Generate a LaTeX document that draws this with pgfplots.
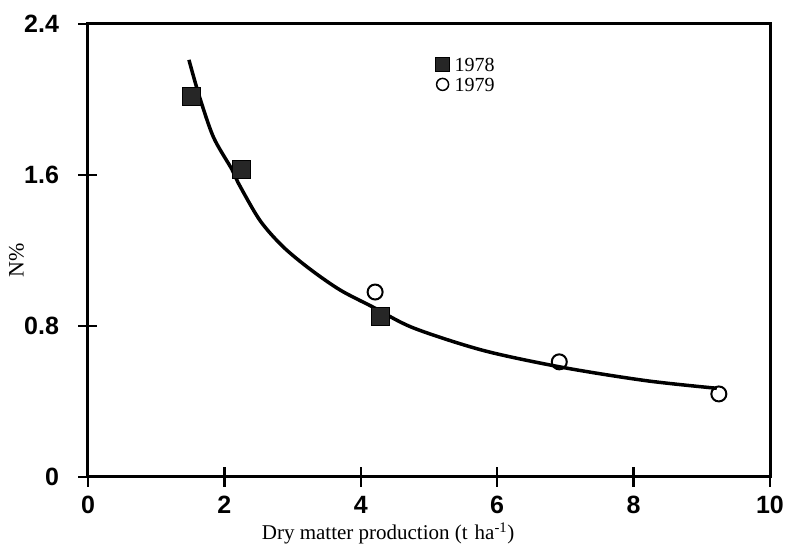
\documentclass[border=0pt]{standalone}
\usepackage{pgfplots}
\pgfplotsset{compat=1.18}
\usepackage{fontspec}
\setmainfont{Liberation Serif}
\setsansfont{Liberation Sans}
\begin{document}
\begin{tikzpicture}
\begin{axis}[
  scale only axis, width=682pt, height=453pt,
  xmin=0, xmax=10, ymin=0, ymax=2.4,
  xtick={0,2,4,6,8,10}, ytick={0,0.8,1.6,2.4},
  yticklabels={0,0.8,1.6,2.4},
  tick pos=left, tick align=center,
  major tick length=19pt,
  every tick/.style={black, line width=2.5pt},
  axis line style={line width=3pt},
  /pgf/number format/assume math mode=true,
  ticklabel style={font=\fontsize{25}{25}\selectfont\sffamily\bfseries},
  xticklabel style={yshift=-6pt},
  yticklabel style={xshift=-16pt},
  every axis x label/.style={at={(axis description cs:0.44,-0.139)}, anchor=base},
  every axis y label/.style={at={(axis description cs:-0.105,0.479)}, rotate=90, anchor=center},
  xlabel={Dry matter production (t\,\,ha\textsuperscript{-1})},
  ylabel={N\%},
  x label style={font=\fontsize{21}{21}\selectfont},
  y label style={font=\fontsize{22}{22}\selectfont},
  legend style={at={(axis cs:5.05,2.24)}, anchor=north west, draw=none, fill=none,
    font=\fontsize{20}{20}\selectfont, row sep=4pt, column sep=4pt,
    nodes={inner sep=1pt, text height=14pt, text depth=0pt}},
  legend cell align=left,
]
\coordinate (O) at (rel axis cs:0,0);
\addplot[forget plot, black, line width=3.5pt, smooth, tension=0.5] coordinates {
 (1.48,2.21) (1.63,2.02) (1.84,1.80) (2.11,1.63) (2.20,1.56) (2.52,1.36) (2.86,1.22)
 (3.26,1.10) (3.70,0.99) (4.18,0.90) (4.77,0.79) (5.80,0.67) (6.97,0.58)
 (8.19,0.51) (9.22,0.47)
};
\addplot[only marks, mark=square*, mark size=9pt, black, fill=black!85,
  legend image post style={mark size=7pt}] coordinates {
 (1.52,2.02) (2.25,1.63) (4.28,0.85)
};
\addlegendentry{1978}
\addplot[only marks, mark=o, mark size=7.5pt, black, line width=2pt,
  legend image post style={mark size=6pt, line width=1.5pt}] coordinates {
 (4.21,0.98) (6.91,0.61) (9.25,0.44)
};
\addlegendentry{1979}
\end{axis}
\pgfresetboundingbox
\path (O) ++(-88pt,-69pt) rectangle ++(788pt,546pt);
\end{tikzpicture}
\end{document}
